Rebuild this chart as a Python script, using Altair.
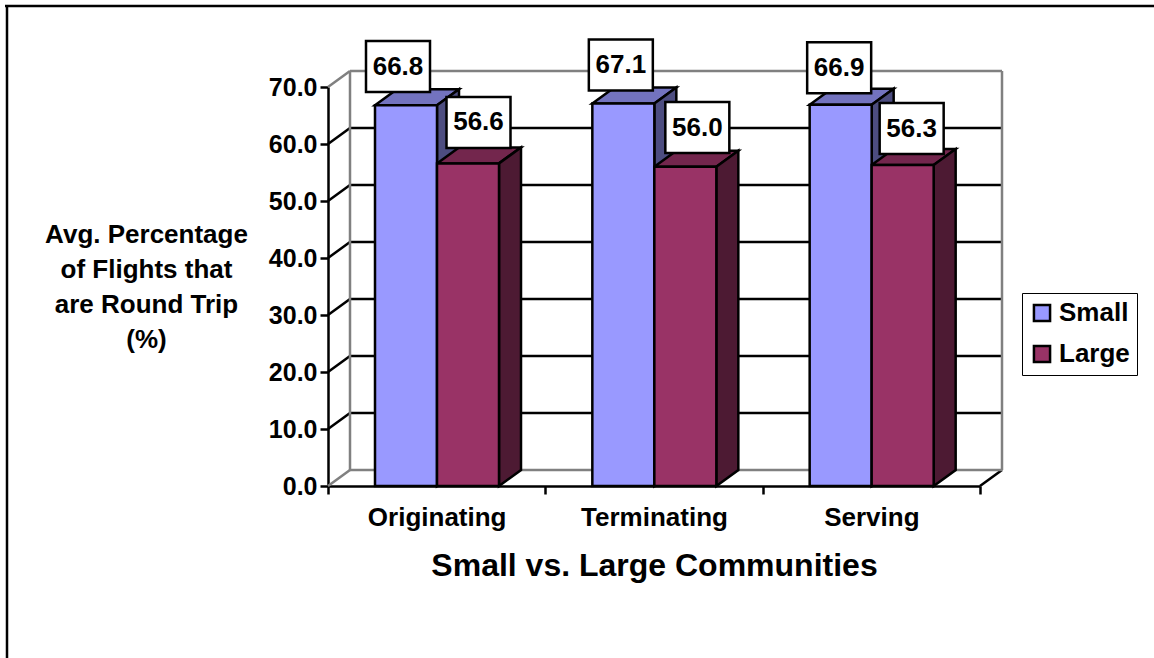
import altair as alt
import pandas as pd

categories = ["Originating", "Terminating", "Serving"]
small_values = [66.8, 67.1, 66.9]
large_values = [56.6, 56.0, 56.3]
series_names = ["Small", "Large"]
front_colors = ["#9999FF", "#993366"]
top_colors = ["#7373BF", "#73264D"]
side_colors = ["#4D4D80", "#4D1A33"]
y_ticks = [0, 10, 20, 30, 40, 50, 60, 70]

FONT = "Liberation Sans"
PLOT_W, PLOT_H = 652, 399
PX_X = 3 / PLOT_W      # category units per pixel
PX_Y = 70 / PLOT_H     # percentage points per pixel

DEPTH_X = 22 * PX_X
DEPTH_Y = 16 * PX_Y
BAR_W = 62 * PX_X
BAR_START = 47 * PX_X
BOX_W, BOX_H = 64 * PX_X, 51 * PX_Y
# Hand-placed value labels: pixel nudge from each bar's front-top centre
LABEL_NUDGE_X = {"Small": [-8, -2.5, -1.5], "Large": [10.5, 12, 9]}
LABEL_NUDGE_Y = {"Small": [38.7, 38.5, 37], "Large": [41, 39.3, 36.5]}
LINE = 2.5

x_scale = alt.Scale(domain=[0, 3], nice=False, zero=False)
y_scale = alt.Scale(domain=[0, 70], nice=False, zero=False)

fronts, faces, boxes = [], [], []
for s, (name, values) in enumerate(zip(series_names, [small_values, large_values])):
    for c, v in enumerate(values):
        x0 = c + BAR_START + s * BAR_W
        x1 = x0 + BAR_W
        fronts.append(dict(series=name, x=x0, x2=x1, y=0, y2=v))
        top, side = f"{s}-{c}-top", f"{s}-{c}-side"
        for px, py, py2 in [(x0, v, v),
                            (x0 + DEPTH_X, v, v + DEPTH_Y),
                            (x1, v, v + DEPTH_Y),
                            (x1 + DEPTH_X, v + DEPTH_Y, v + DEPTH_Y)]:
            faces.append(dict(face=top, fill=top_colors[s], x=px, y=py, y2=py2))
        for px, py, py2 in [(x1, v, 0), (x1 + DEPTH_X, v + DEPTH_Y, DEPTH_Y)]:
            faces.append(dict(face=side, fill=side_colors[s], x=px, y=py, y2=py2))
        cx = (x0 + x1) / 2 + LABEL_NUDGE_X[name][c] * PX_X
        cy = v + LABEL_NUDGE_Y[name][c] * PX_Y
        boxes.append(dict(label=f"{v:.1f}", x=cx, y=cy,
                          bx=cx - BOX_W / 2, bx2=cx + BOX_W / 2,
                          by=cy - BOX_H / 2, by2=cy + BOX_H / 2))

# Wall and floor edges of the 3-D frame
gray_edges, black_edges = [], []


def edge(rows, key, xa, ya, xb, yb):
    rows.append(dict(key=key, x=xa, y=ya))
    rows.append(dict(key=key, x=xb, y=yb))


for t in y_ticks[1:-1]:
    edge(black_edges, f"back{t}", DEPTH_X, t + DEPTH_Y, 3 + DEPTH_X, t + DEPTH_Y)
    edge(black_edges, f"diag{t}", 0, t, DEPTH_X, t + DEPTH_Y)
edge(black_edges, "floor", 3, 0, 3 + DEPTH_X, DEPTH_Y)
edge(gray_edges, "top", DEPTH_X, 70 + DEPTH_Y, 3 + DEPTH_X, 70 + DEPTH_Y)
edge(gray_edges, "floorback", DEPTH_X, DEPTH_Y, 3 + DEPTH_X, DEPTH_Y)
edge(gray_edges, "wallleft", DEPTH_X, DEPTH_Y, DEPTH_X, 70 + DEPTH_Y)
edge(gray_edges, "wallright", 3 + DEPTH_X, DEPTH_Y, 3 + DEPTH_X, 70 + DEPTH_Y)
edge(gray_edges, "diagtop", 0, 70, DEPTH_X, 70 + DEPTH_Y)
edge(gray_edges, "diagfloor", 0, 0, DEPTH_X, DEPTH_Y)

# Outer chart frame: top and left sides only
frame_rows = []
edge(frame_rows, "frametop", -323 * PX_X, 70 + 81 * PX_Y, 826 * PX_X, 70 + 81 * PX_Y)
edge(frame_rows, "frameleft", -321 * PX_X, 70 + 81 * PX_Y, -321 * PX_X, 70 + 87 * PX_Y - 658 * PX_Y)

X = alt.X("x:Q", scale=x_scale, axis=None)
Y = alt.Y("y:Q", scale=y_scale, axis=None)


def lines(rows, color):
    return alt.Chart(pd.DataFrame(rows)).mark_line(
        color=color, strokeWidth=LINE, clip=False
    ).encode(x=X, y=Y, detail="key:N")


category_axis = alt.Chart(pd.DataFrame({"category": categories})).mark_rule(opacity=0).encode(
    x=alt.X("category:N", sort=categories,
            scale=alt.Scale(domain=categories, paddingInner=0, paddingOuter=0),
            title="Small vs. Large Communities",
            axis=alt.Axis(orient="bottom", tickBand="extent", labelAngle=0, labelFont=FONT,
                          labelFontSize=26, labelFontWeight="bold", labelColor="black",
                          labelPadding=10, tickSize=8, tickWidth=LINE, tickColor="black",
                          domainColor="black", domainWidth=LINE, grid=False,
                          titleFont=FONT, titleFontSize=32, titleFontWeight="bold",
                          titleColor="black", titlePadding=20)),
)

value_axis = alt.Chart(pd.DataFrame({"y": y_ticks})).mark_rule(opacity=0).encode(
    y=alt.Y("y:Q", scale=y_scale,
            title=["Avg. Percentage", "of Flights that", "are Round Trip", "(%)"],
            axis=alt.Axis(values=y_ticks, format=".1f", grid=False, labelFont=FONT,
                          labelFontSize=25, labelFontWeight="bold", labelColor="black",
                          labelPadding=3, tickSize=8, tickWidth=LINE, tickColor="black",
                          domainColor="black", domainWidth=LINE,
                          titleFont=FONT, titleFontSize=26, titleFontWeight="bold",
                          titleColor="black", titleAngle=0, titleAlign="center",
                          titleBaseline="middle", titleX=-182, titleY=147,
                          titleLineHeight=35)),
)

side_top = alt.Chart(pd.DataFrame(faces)).mark_area(
    stroke="black", strokeWidth=LINE, strokeJoin="miter", clip=False
).encode(
    x=X,
    y=alt.Y("y:Q", scale=y_scale, axis=None, stack=None),
    y2="y2:Q",
    detail="face:N",
    fill=alt.Fill("fill:N", scale=None),
)

front = alt.Chart(pd.DataFrame(fronts)).mark_rect(stroke="black", strokeWidth=LINE).encode(
    x=X,
    x2="x2:Q",
    y=Y,
    y2="y2:Q",
    fill=alt.Fill("series:N",
                  scale=alt.Scale(domain=series_names, range=front_colors),
                  legend=alt.Legend(title=None, orient="none", legendX=694, legendY=206,
                                    fillColor="white", strokeColor="black", padding=7,
                                    symbolType="square", symbolSize=260,
                                    symbolStrokeColor="black", symbolStrokeWidth=LINE,
                                    labelFont=FONT, labelFontSize=26, labelFontWeight="bold",
                                    labelColor="black", rowPadding=13, labelOffset=4)),
)

box_df = pd.DataFrame(boxes)
label_boxes = alt.Chart(box_df).mark_rect(fill="white", stroke="black", strokeWidth=LINE).encode(
    x=alt.X("bx:Q", scale=x_scale, axis=None), x2="bx2:Q",
    y=alt.Y("by:Q", scale=y_scale, axis=None), y2="by2:Q",
)
label_text = alt.Chart(box_df).mark_text(
    font=FONT, fontSize=26, fontWeight="bold", color="black", align="center", baseline="middle"
).encode(x=X, y=Y, text="label:N")

chart = alt.layer(
    lines(frame_rows, "black"),
    lines(black_edges, "black"),
    lines(gray_edges, "#808080"),
    category_axis,
    value_axis,
    side_top,
    front,
    label_boxes,
    label_text,
).resolve_scale(x="independent").resolve_axis(y="independent").properties(
    width=PLOT_W,
    height=PLOT_H,
    padding={"left": 328, "top": 87, "right": 174, "bottom": 172},
    autosize=alt.AutoSizeParams(type="none"),
    background="white",
).configure_view(stroke=None)

chart.save("out.html", embed_options={"renderer": "svg", "actions": False})
